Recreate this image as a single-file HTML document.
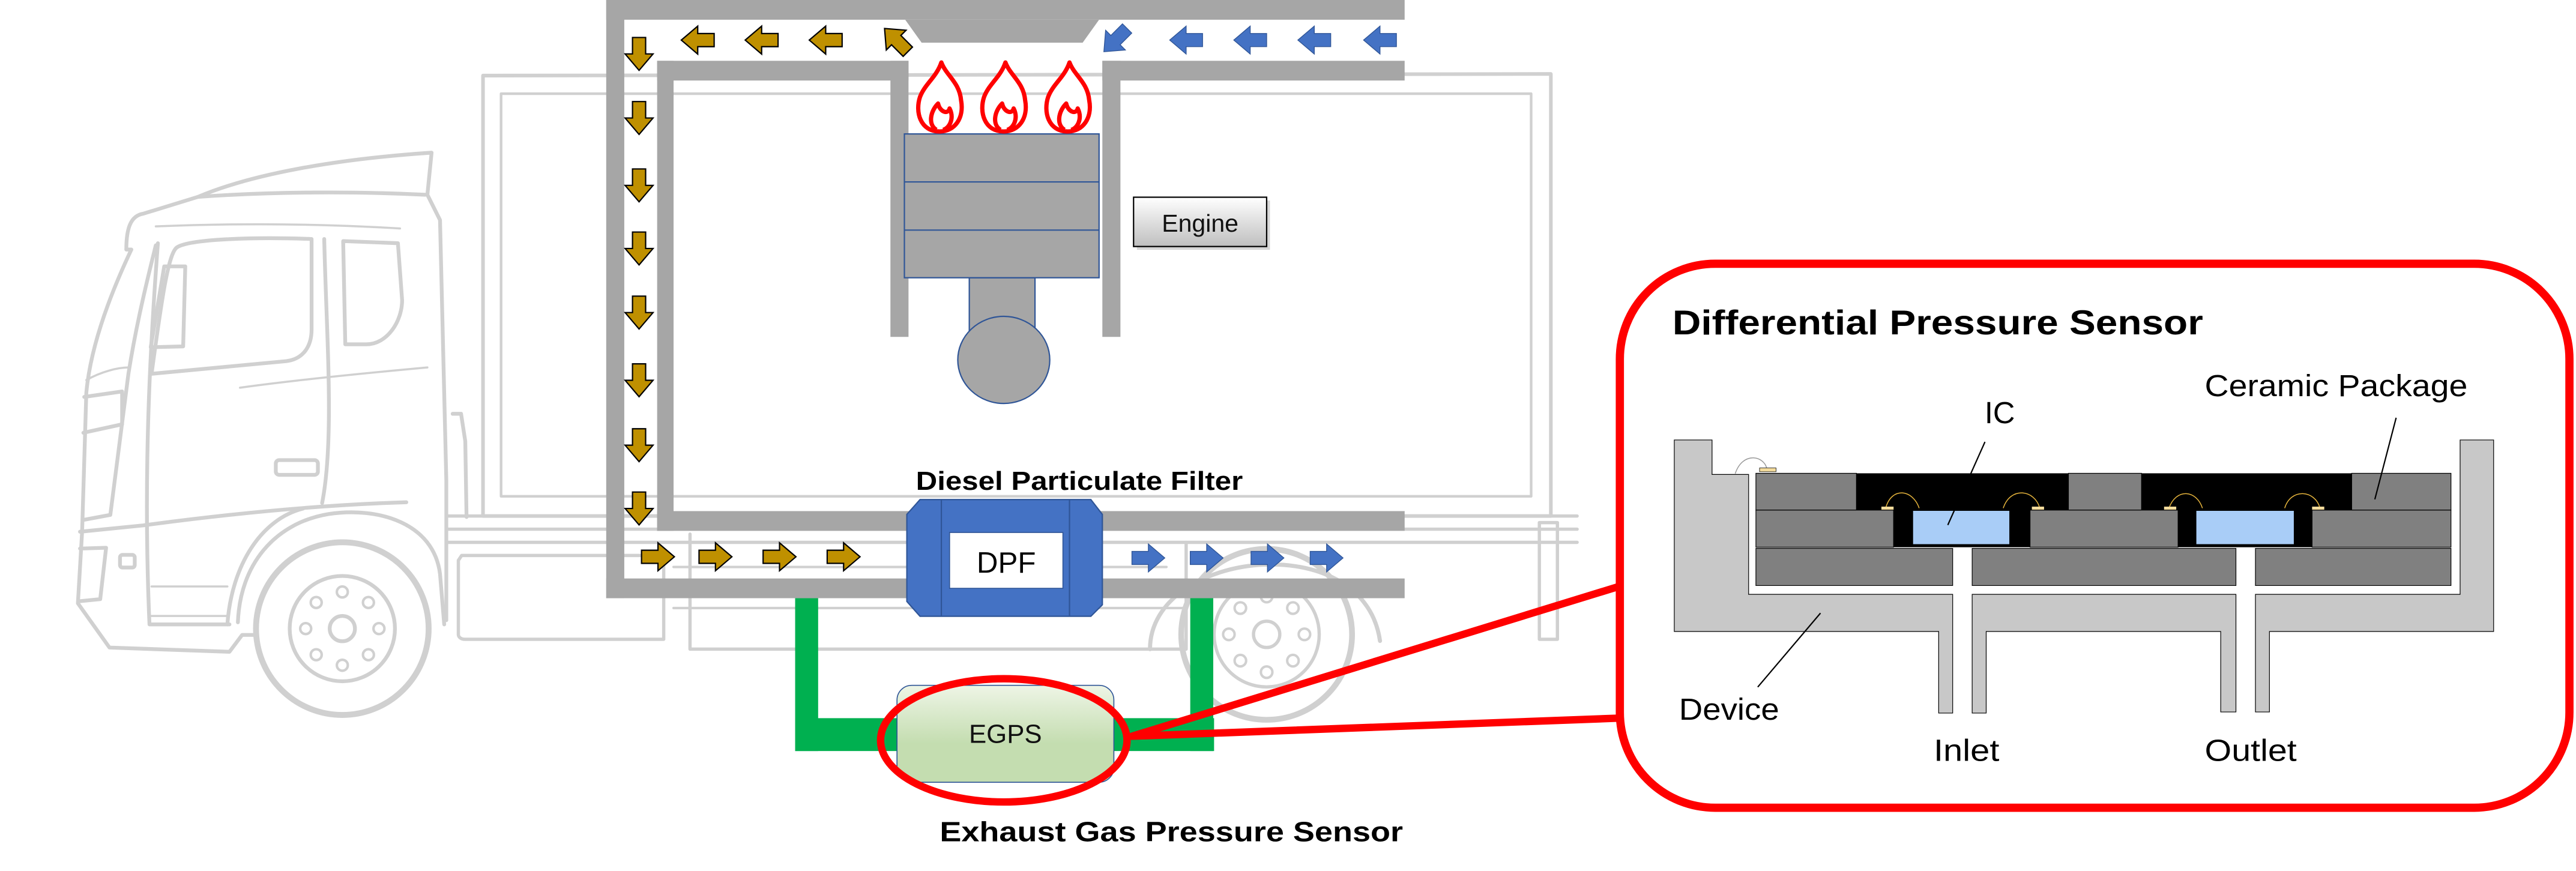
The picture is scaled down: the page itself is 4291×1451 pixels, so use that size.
<!DOCTYPE html>
<html><head><meta charset="utf-8"><style>
html,body{margin:0;padding:0;background:#fff;}
svg{display:block;}
</style></head><body>
<svg xmlns="http://www.w3.org/2000/svg" width="4291" height="1451" viewBox="0 0 1568 530" preserveAspectRatio="none">
<defs>
<linearGradient id="eng" x1="0" y1="0" x2="0" y2="1"><stop offset="0" stop-color="#ffffff"/><stop offset="1" stop-color="#bfbfbf"/></linearGradient>
<linearGradient id="egps" x1="0" y1="0" x2="0" y2="1"><stop offset="0" stop-color="#eef5e6"/><stop offset="0.6" stop-color="#c4ddb0"/><stop offset="1" stop-color="#c4ddb0"/></linearGradient>
<path id="ad" d="M-4,-10 L4,-10 L4,0 L8.5,0 L0,10 L-8.5,0 L-4,0 Z"/>
<path id="fl" d="M0,0 C-12,0 -15,-12 -12,-21 C-9,-29 -2,-33 1,-42 C4,-34 12,-30 13,-19 C15,-8 9,0 0,0 Z M-2,-1 C-7,-4 -6,-12 -1,-17 C0,-12 5,-10 6,-14 C9,-8 6,-2 2,-1"/>
</defs>

<!-- Truck outline -->
<g fill="none" stroke="#d0d0d0" stroke-linejoin="round" stroke-linecap="round">
<g transform="translate(0,36.5) scale(0.2563)" stroke-width="9">
<path d="M300,450 C300,400 310,370 340,365 L470,325 C650,312 850,312 1010,320"/>
<path d="M470,325 C600,270 800,235 1025,220 L1015,320 L1045,380 L1060,1000 L1060,1330"/>
<path d="M300,450 L312,450 C260,560 215,680 205,790 L195,1120 L185,1290 L260,1395 L545,1405 L575,1365 L610,1365"/>
<path d="M370,440 C340,560 320,650 305,745 L262,1080 L198,1092"/>
<path d="M360,745 L680,715 C720,710 740,680 740,640 L740,425 C600,420 450,425 420,445 C400,460 385,560 360,745"/>
<path d="M375,435 C355,700 340,1000 355,1340 L545,1340"/>
<path d="M770,425 C775,650 795,900 765,1052"/>
<path d="M815,430 L945,435 L955,570 C955,620 920,675 870,675 L820,675 Z"/>
<path d="M390,490 L440,490 L435,680 L358,682 Z"/>
<path d="M200,800 L290,787 L290,865 L198,885"/>
<path d="M190,1120 L340,1105 C600,1070 800,1055 965,1050"/>
<path d="M565,1335 C570,1200 650,1100 780,1078 C900,1060 1030,1100 1045,1220 L1055,1340"/>
<path d="M540,1340 C550,1200 620,1090 720,1065"/>
<path d="M370,395 C500,390 700,385 950,400" stroke-width="5"/>
<path d="M570,778 C700,760 850,745 1015,730" stroke-width="5"/>
<path d="M205,760 C240,740 280,730 305,730" stroke-width="5"/>
<rect x="655" y="950" width="100" height="35" rx="8"/>
<rect x="285" y="1175" width="35" height="30" rx="6"/>
<path d="M190,1160 L252,1158 L238,1280 L188,1285"/>
<path d="M360,1250 L540,1250 M360,1320 L540,1320" stroke-width="5"/>
<path d="M1075,840 L1095,840 L1105,905 L1108,1085"/>
<circle cx="813" cy="1350" r="205" stroke-width="14"/>
<circle cx="813" cy="1350" r="125"/>
<circle cx="813" cy="1350" r="30"/>
<g stroke-width="6">
<circle cx="813" cy="1263" r="13"/><circle cx="813" cy="1437" r="13"/><circle cx="726" cy="1350" r="13"/><circle cx="900" cy="1350" r="13"/>
<circle cx="751" cy="1288" r="13"/><circle cx="875" cy="1288" r="13"/><circle cx="751" cy="1412" r="13"/><circle cx="875" cy="1412" r="13"/>
</g>
</g>
<!-- trailer box -->
<path d="M294,46 L944,45 L944,314 L294,314 Z" stroke-width="2.2"/>
<path d="M305,57 L932,57 L932,302 L305,302 Z" stroke-width="1.6"/>
<path d="M273,314 L960,314 M273,322 L960,322 M273,330 L960,330" stroke-width="2"/>
<path d="M281,338 L402,338 C404,338 404,340 404,342 L404,389 L283,389 C281,389 279,388 279,386 L279,341 Z" stroke-width="2"/>
<path d="M420,325 L420,395 L722,395 L722,330" stroke-width="2"/>
<path d="M410,345 L710,345 M410,370 L720,370" stroke-width="1.5"/>
<path d="M937,318 L948,318 L948,389 L937,389 Z" stroke-width="2"/>
<path d="M700,395 C700,335 830,320 840,390" stroke-width="2.5"/>
<circle cx="771" cy="386" r="52" stroke-width="3.5"/>
<circle cx="771" cy="386" r="32" stroke-width="2"/>
<circle cx="771" cy="386" r="8" stroke-width="2"/>
<g stroke-width="1.5">
<circle cx="771" cy="363" r="3.5"/><circle cx="771" cy="409" r="3.5"/><circle cx="748" cy="386" r="3.5"/><circle cx="794" cy="386" r="3.5"/>
<circle cx="755" cy="370" r="3.5"/><circle cx="787" cy="370" r="3.5"/><circle cx="755" cy="402" r="3.5"/><circle cx="787" cy="402" r="3.5"/>
</g>
</g>

<!-- Pipes -->
<g fill="#a6a6a6">
<rect x="369" y="0" width="486" height="12"/>
<polygon points="551,12 669,12 659,26 561,26"/>
<rect x="369" y="0" width="11" height="364"/>
<rect x="400" y="37" width="153" height="12"/>
<rect x="542" y="37" width="11" height="168"/>
<rect x="671" y="37" width="184" height="12"/>
<rect x="671" y="37" width="11" height="168"/>
<rect x="400" y="37" width="10" height="286"/>
<rect x="400" y="311" width="455" height="12"/>
<rect x="369" y="352" width="486" height="12"/>
</g>

<!-- Engine -->
<rect x="590" y="169" width="40" height="40" fill="#a6a6a6" stroke="#2f5597" stroke-width="0.8"/>
<ellipse cx="611" cy="219" rx="28" ry="26.5" fill="#a6a6a6" stroke="#2f5597" stroke-width="0.8"/>
<rect x="550.5" y="81.5" width="118.5" height="87.5" fill="#a6a6a6" stroke="#2f5597" stroke-width="0.8"/>
<path d="M550.5,110.7 L669,110.7 M550.5,140 L669,140" stroke="#2f5597" stroke-width="0.8"/>
<g fill="#fff" stroke="#ff0000" stroke-width="2.6" stroke-linejoin="round">
<use href="#fl" transform="translate(572,80)"/>
<use href="#fl" transform="translate(611,80)"/>
<use href="#fl" transform="translate(650,80)"/>
</g>
<rect x="692" y="122" width="81" height="30" fill="#999" opacity="0.4"/>
<rect x="690" y="120" width="81" height="30" fill="url(#eng)" stroke="#000" stroke-width="0.8"/>
<text x="730.5" y="141" font-family="Liberation Sans, sans-serif" font-size="15" text-anchor="middle" fill="#111">Engine</text>

<!-- Arrows -->
<g fill="#bf9000" stroke="#000" stroke-width="0.8">
<use href="#ad" transform="translate(389,32.8)"/>
<use href="#ad" transform="translate(389,71.8)"/>
<use href="#ad" transform="translate(389,112.8)"/>
<use href="#ad" transform="translate(389,151.2)"/>
<use href="#ad" transform="translate(389,190.2)"/>
<use href="#ad" transform="translate(389,231.4)"/>
<use href="#ad" transform="translate(389,270.9)"/>
<use href="#ad" transform="translate(389,309.4)"/>
<use href="#ad" transform="translate(424.7,24.4) rotate(90)"/>
<use href="#ad" transform="translate(463.6,24.4) rotate(90)"/>
<use href="#ad" transform="translate(502.6,24.4) rotate(90)"/>
<use href="#ad" transform="translate(545.5,24.4) rotate(135)"/>
<use href="#ad" transform="translate(400.5,338.8) rotate(-90)"/>
<use href="#ad" transform="translate(435.5,338.8) rotate(-90)"/>
<use href="#ad" transform="translate(474.5,338.8) rotate(-90)"/>
<use href="#ad" transform="translate(513.5,338.8) rotate(-90)"/>
</g>
<g fill="#4472c4" stroke="#2f5597" stroke-width="0.5">
<use href="#ad" transform="translate(679,24.4) rotate(45)"/>
<use href="#ad" transform="translate(722,24.4) rotate(90)"/>
<use href="#ad" transform="translate(761,24.4) rotate(90)"/>
<use href="#ad" transform="translate(800,24.4) rotate(90)"/>
<use href="#ad" transform="translate(840,24.4) rotate(90)"/>
<use href="#ad" transform="translate(699,339.5) rotate(-90)"/>
<use href="#ad" transform="translate(734.5,339.5) rotate(-90)"/>
<use href="#ad" transform="translate(771.5,339.5) rotate(-90)"/>
<use href="#ad" transform="translate(807.5,339.5) rotate(-90)"/>
</g>

<!-- DPF -->
<polygon points="560,304 664,304 671,313 671,368 664,375 560,375 552,366 552,313" fill="#4472c4" stroke="#2f5597" stroke-width="0.8"/>
<path d="M573,304 L573,375 M651,304 L651,375" stroke="#2f5597" stroke-width="0.8"/>
<rect x="578" y="324" width="69" height="34" fill="#fff" stroke="#2f5597" stroke-width="0.6"/>
<text x="612.5" y="348.5" font-family="Liberation Sans, sans-serif" font-size="18" text-anchor="middle" fill="#000">DPF</text>
<text x="557.5" y="298" font-family="Liberation Sans, sans-serif" font-weight="bold" font-size="16" textLength="199" lengthAdjust="spacingAndGlyphs" fill="#000">Diesel Particulate Filter</text>

<!-- Green pipes -->
<g fill="#00b050">
<rect x="484" y="364" width="14" height="93"/>
<rect x="484" y="437" width="255" height="20"/>
<rect x="724.5" y="364" width="14" height="93"/>
</g>
<rect x="546" y="417" width="132" height="59" rx="9" fill="url(#egps)" stroke="#2f5597" stroke-width="0.6"/>
<text x="612" y="452" font-family="Liberation Sans, sans-serif" font-size="16" text-anchor="middle" fill="#111">EGPS</text>

<!-- Red callout -->
<path d="M689,448 L985,357 M689,448 L985,437" stroke="#ff0000" stroke-width="4.5" fill="none" stroke-linecap="round"/>
<ellipse cx="611" cy="450.5" rx="75" ry="37.5" fill="none" stroke="#ff0000" stroke-width="4.5"/>
<rect x="986" y="160.5" width="578" height="331" rx="58" fill="#fff" stroke="#ff0000" stroke-width="5"/>
<text x="572" y="512" font-family="Liberation Sans, sans-serif" font-weight="bold" font-size="17" textLength="282" lengthAdjust="spacingAndGlyphs" fill="#000">Exhaust Gas Pressure Sensor</text>

<!-- Sensor -->
<text x="1018" y="203.5" font-family="Liberation Sans, sans-serif" font-weight="bold" font-size="21" textLength="323" lengthAdjust="spacingAndGlyphs" fill="#000">Differential Pressure Sensor</text>
<g transform="translate(986.5,153.5) scale(0.3708,0.2331)">
<g stroke="#000" stroke-width="1.2" vector-effect="non-scaling-stroke">
<path d="M88,490 L150,490 L150,580 L210,580 L210,893 L545,893 L545,1203 L522,1203 L522,990 L88,990 Z" fill="#c8c8c8" vector-effect="non-scaling-stroke"/>
<path d="M577,893 L1010,893 L1010,1200 L985,1200 L985,990 L600,990 L600,1203 L577,1203 Z" fill="#c8c8c8" vector-effect="non-scaling-stroke"/>
<path d="M1042,893 L1378,893 L1378,490 L1433,490 L1433,990 L1065,990 L1065,1200 L1042,1200 Z" fill="#c8c8c8" vector-effect="non-scaling-stroke"/>
</g>
<rect x="387" y="577" width="348" height="193" fill="#000"/>
<rect x="855" y="577" width="345" height="193" fill="#000"/>
<g fill="#808080" stroke="#000" stroke-width="1.2">
<rect x="222" y="577" width="165" height="96" vector-effect="non-scaling-stroke"/>
<rect x="735" y="577" width="120" height="96" vector-effect="non-scaling-stroke"/>
<rect x="1200" y="577" width="163" height="96" vector-effect="non-scaling-stroke"/>
<rect x="222" y="673" width="226" height="97" vector-effect="non-scaling-stroke"/>
<rect x="672" y="673" width="243" height="97" vector-effect="non-scaling-stroke"/>
<rect x="1135" y="673" width="228" height="97" vector-effect="non-scaling-stroke"/>
<rect x="222" y="773" width="323" height="97" vector-effect="non-scaling-stroke"/>
<rect x="577" y="773" width="433" height="97" vector-effect="non-scaling-stroke"/>
<rect x="1042" y="773" width="321" height="97" vector-effect="non-scaling-stroke"/>
</g>
<rect x="480" y="675" width="158" height="87" fill="#a9cdf7"/>
<rect x="945" y="675" width="160" height="87" fill="#a9cdf7"/>
<g fill="none" stroke="#e6b43c" stroke-width="1.5">
<path d="M435,668 C445,610 480,620 490,668" vector-effect="non-scaling-stroke"/>
<path d="M628,668 C640,610 680,620 688,668" vector-effect="non-scaling-stroke"/>
<path d="M900,668 C912,615 945,620 955,668" vector-effect="non-scaling-stroke"/>
<path d="M1090,668 C1100,615 1140,620 1148,668" vector-effect="non-scaling-stroke"/>
<path d="M188,578 C200,520 235,530 240,565" stroke="#999" vector-effect="non-scaling-stroke"/>
</g>
<g fill="#f4dc9c">
<rect x="428" y="664" width="20" height="8"/><rect x="675" y="664" width="20" height="8"/>
<rect x="892" y="664" width="20" height="8"/><rect x="1135" y="664" width="20" height="8"/>
<rect x="228" y="563" width="27" height="10" stroke="#000" stroke-width="0.8" vector-effect="non-scaling-stroke"/>
</g>
<g stroke="#000" stroke-width="2.2" fill="none">
<path d="M598,495 L537,712" vector-effect="non-scaling-stroke"/>
<path d="M1273,432 L1238,645" vector-effect="non-scaling-stroke"/>
<path d="M328,942 L225,1135" vector-effect="non-scaling-stroke"/>
</g>
</g>
<g font-family="Liberation Sans, sans-serif" font-size="18.5" fill="#000">
<text x="1208" y="257.5">IC</text>
<text x="1342" y="241" textLength="160" lengthAdjust="spacingAndGlyphs">Ceramic Package</text>
<text x="1022" y="438" textLength="61" lengthAdjust="spacingAndGlyphs">Device</text>
<text x="1177" y="463" textLength="40" lengthAdjust="spacingAndGlyphs">Inlet</text>
<text x="1342" y="463" textLength="56" lengthAdjust="spacingAndGlyphs">Outlet</text>
</g>
</svg>
</body></html>
